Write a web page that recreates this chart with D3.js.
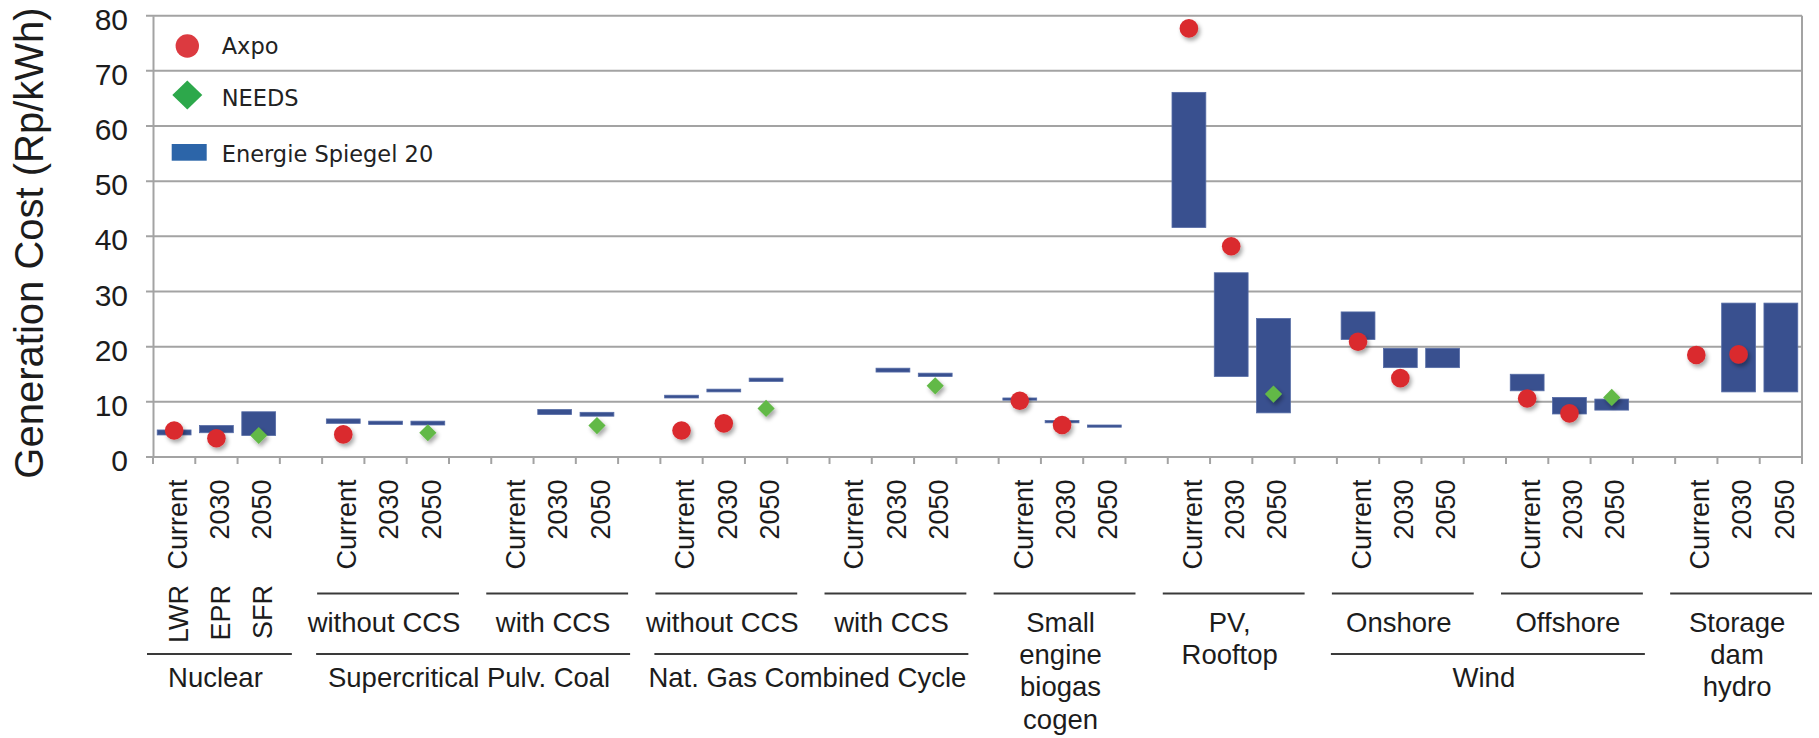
<!DOCTYPE html>
<html>
<head>
<meta charset="utf-8">
<script src="https://cdn.jsdelivr.net/npm/d3@7"></script>
<style>
  body { margin: 0; background: #fff; }
  svg { display: block; }
  text { font-family: "Liberation Sans", Arial, Helvetica, sans-serif; fill: #1c1c1c; }
  .legend text { font-family: "DejaVu Sans", "Lucida Grande", sans-serif; fill: #222; }
</style>
</head>
<body>
<script>
'use strict';

// technologies along the x axis, each has three time points
const techs = ["Nuclear", "Coal without CCS", "Coal with CCS", "Gas without CCS", "Gas with CCS",
  "Biogas", "PV Rooftop", "Wind Onshore", "Wind Offshore", "Storage dam hydro"];
const periods = ["Current", "2030", "2050"];

// Energie Spiegel 20 ranges (Rp/kWh), null = no range
const esLow = [
  [4.0, 4.4, 3.9], [6.1, 5.9, 5.8], [null, 7.7, 7.4], [10.7, 11.8, 13.7], [null, 15.4, 14.6],
  [10.3, 6.2, 5.4], [41.6, 14.6, 8.0], [21.3, 16.2, 16.2], [12.0, 7.8, 8.5], [null, 11.8, 11.8]
];
const esHigh = [
  [4.9, 5.7, 8.2], [6.9, 6.5, 6.5], [null, 8.6, 8.1], [11.2, 12.3, 14.3], [null, 16.1, 15.2],
  [10.7, 6.6, 5.8], [66.1, 33.4, 25.1], [26.3, 19.7, 19.7], [15.0, 10.8, 10.5], [null, 27.9, 27.9]
];
// Axpo point estimates
const axpo = [
  [4.8, 3.4, null], [4.1, null, null], [null, null, null], [4.8, 6.1, null], [null, null, null],
  [10.2, 5.8, null], [77.7, 38.2, null], [20.9, 14.3, null], [10.6, 7.9, null], [18.5, 18.6, null]
];
// NEEDS point estimates
const needs = [
  [null, null, 3.9], [null, null, 4.4], [null, null, 5.7], [null, null, 8.8], [null, null, 12.9],
  [null, null, null], [null, null, 11.4], [null, null, null], [null, null, 10.8], [null, null, null]
];

// first label row under the tick labels (one per technology)
const subLabels = [null, ["without CCS"], ["with CCS"], ["without CCS"], ["with CCS"],
  ["Small", "engine", "biogas", "cogen"], ["PV,", "Rooftop"], ["Onshore"], ["Offshore"],
  ["Storage", "dam", "hydro"]];
const nuclearTypes = ["LWR", "EPR", "SFR"];

// second label row: group name and the technologies it covers
const groupNames = ["Nuclear", "Supercritical Pulv. Coal", "Nat. Gas Combined Cycle", "Wind"];
const groupTechs = [[0, 0], [1, 2], [3, 4], [7, 8]];

const yTicks = [0, 10, 20, 30, 40, 50, 60, 70, 80];

const legendNames = ["Axpo", "NEEDS", "Energie Spiegel 20"];

window.onload = function() {
  const W = 1819, H = 738;
  const left = 153, right = 1802, top = 15.7, bottom = 457;

  const svg = d3.select('body').append('svg')
    .attr('width', W)
    .attr('height', H);

  // drop shadow for the markers
  const filt = svg.append('defs').append('filter')
    .attr('id', 'shadow')
    .attr('x', '-50%').attr('y', '-50%')
    .attr('width', '200%').attr('height', '200%');
  filt.append('feDropShadow')
    .attr('dx', 2).attr('dy', 3)
    .attr('stdDeviation', 2)
    .attr('flood-color', '#000')
    .attr('flood-opacity', 0.35);

  // slots: three per technology, one blank slot in between
  let slots = [];
  techs.forEach((t, i) => {
    periods.forEach(p => slots.push(t + '|' + p));
    if (i < techs.length - 1) slots.push('gap' + i);
  });

  let x = d3.scaleBand().domain(slots).range([left, right]);
  let y = d3.scaleLinear().domain([0, 80]).range([bottom, top]);
  let bw = x.bandwidth();

  let rows = [];
  techs.forEach((t, i) => periods.forEach((p, j) => {
    rows.push({
      key: t + '|' + p, ti: i, pi: j, period: p,
      low: esLow[i][j], high: esHigh[i][j],
      axpo: axpo[i][j], needs: needs[i][j]
    });
  }));

  // gridlines
  svg.append('g').selectAll('line')
    .data(yTicks)
    .enter()
    .append('line')
      .attr('x1', left - 7)
      .attr('x2', right)
      .attr('y1', d => y(d))
      .attr('y2', d => y(d))
      .attr('stroke', '#a3a3a3')
      .attr('stroke-width', 2);

  // y axis
  let yAxis = d3.axisLeft(y).tickValues(yTicks).tickSize(0).tickPadding(25);
  let yg = svg.append('g')
    .attr('transform', 'translate(' + left + ',0)')
    .call(yAxis);
  yg.select('.domain').attr('stroke', '#a3a3a3').attr('stroke-width', 2);
  yg.selectAll('text')
    .attr('font-size', 30)
    .attr('dy', '0.45em')
    .style('font-family', '"Liberation Sans", Arial, sans-serif')
    .attr('fill', '#1c1c1c');

  // right border
  svg.append('line')
    .attr('x1', right).attr('x2', right)
    .attr('y1', y(80)).attr('y2', y(0) + 7)
    .attr('stroke', '#a3a3a3')
    .attr('stroke-width', 2);

  // x ticks on the slot boundaries
  let bounds = slots.map(s => x(s)).concat([x(slots[slots.length - 1]) + bw]);
  svg.append('g').selectAll('line')
    .data(bounds)
    .enter()
    .append('line')
      .attr('x1', d => d).attr('x2', d => d)
      .attr('y1', y(0)).attr('y2', y(0) + 7)
      .attr('stroke', '#a3a3a3')
      .attr('stroke-width', 2);

  // Energie Spiegel bars
  svg.append('g').selectAll('rect')
    .data(rows.filter(d => d.low !== null))
    .enter()
    .append('rect')
      .attr('x', d => x(d.key) + bw * 0.1)
      .attr('width', bw * 0.8)
      .attr('y', d => y(d.high))
      .attr('height', d => y(d.low) - y(d.high))
      .attr('fill', '#39508f')
      .attr('stroke', '#566ca6')
      .attr('stroke-width', 0.8);

  // Axpo circles
  svg.append('g').selectAll('circle')
    .data(rows.filter(d => d.axpo !== null))
    .enter()
    .append('circle')
      .attr('cx', d => x(d.key) + bw / 2)
      .attr('cy', d => y(d.axpo))
      .attr('r', 9.3)
      .attr('fill', '#da2a2e')
      .attr('filter', 'url(#shadow)');

  // NEEDS diamonds
  let diamond = h => 'M0,' + (-h) + 'L' + h + ',0L0,' + h + 'L' + (-h) + ',0Z';
  svg.append('g').selectAll('path')
    .data(rows.filter(d => d.needs !== null))
    .enter()
    .append('path')
      .attr('d', diamond(8.6))
      .attr('transform', d => 'translate(' + (x(d.key) + bw / 2) + ',' + y(d.needs) + ')')
      .attr('fill', '#62b947')
      .attr('filter', 'url(#shadow)');

  // period tick labels, rotated
  svg.append('g').selectAll('text')
    .data(rows)
    .enter()
    .append('text')
      .attr('transform', d => 'translate(' + (x(d.key) + bw / 2 + 3) + ',479.5) rotate(-90)')
      .attr('text-anchor', 'end')
      .attr('dy', '0.36em')
      .attr('font-size', 27)
      .text(d => d.period);

  // nuclear reactor types
  svg.append('g').selectAll('text')
    .data(rows.filter(d => d.ti === 0))
    .enter()
    .append('text')
      .attr('transform', d => 'translate(' + (x(d.key) + bw / 2 + 4) + ',585) rotate(-90)')
      .attr('text-anchor', 'end')
      .attr('dy', '0.36em')
      .attr('font-size', 27)
      .text(d => nuclearTypes[d.pi]);

  // first row: technology lines and labels
  subLabels.forEach((lines, i) => {
    if (!lines) return;
    let x1 = x(techs[i] + '|Current') - 5;
    let x2 = x(techs[i] + '|2050') + bw + 10;
    svg.append('line')
      .attr('x1', x1).attr('x2', x2)
      .attr('y1', 593.5).attr('y2', 593.5)
      .attr('stroke', '#3a3a3a')
      .attr('stroke-width', 2);
    let t = svg.append('text')
      .attr('text-anchor', 'middle')
      .attr('font-size', 27.5);
    lines.forEach((l, k) => {
      t.append('tspan')
        .attr('x', (x1 + x2) / 2 - 4)
        .attr('y', 632 + k * 32.2)
        .text(l);
    });
  });

  // second row: group lines and labels
  groupNames.forEach((g, i) => {
    let x1 = x(techs[groupTechs[i][0]] + '|Current') - 6;
    let x2 = x(techs[groupTechs[i][1]] + '|2050') + bw + 12;
    svg.append('line')
      .attr('x1', x1).attr('x2', x2)
      .attr('y1', 654).attr('y2', 654)
      .attr('stroke', '#3a3a3a')
      .attr('stroke-width', 2);
    svg.append('text')
      .attr('x', (x1 + x2) / 2 - 4)
      .attr('y', 687)
      .attr('text-anchor', 'middle')
      .attr('font-size', 27.5)
      .text(g);
  });

  // y axis title
  svg.append('text')
    .attr('transform', 'translate(43,243) rotate(-90)')
    .attr('text-anchor', 'middle')
    .attr('font-size', 40)
    .text('Generation Cost (Rp/kWh)');

  // legend
  let lg = svg.append('g').attr('class', 'legend');
  lg.append('circle')
    .attr('cx', 187.3).attr('cy', 46)
    .attr('r', 11.7)
    .attr('fill', '#dc3a40');
  lg.append('path')
    .attr('d', 'M0,-14.5L15,0L0,14.5L-15,0Z')
    .attr('transform', 'translate(187.3,95)')
    .attr('fill', '#2da84b');
  lg.append('rect')
    .attr('x', 171.7).attr('y', 144)
    .attr('width', 35).attr('height', 16.7)
    .attr('fill', '#2c65a9');
  lg.selectAll('text')
    .data(legendNames)
    .enter()
    .append('text')
      .attr('x', 221.7)
      .attr('y', (d, i) => [54, 106, 161.7][i])
      .attr('font-size', 22.5)
      .text(d => d);
};
</script>
</body>
</html>
